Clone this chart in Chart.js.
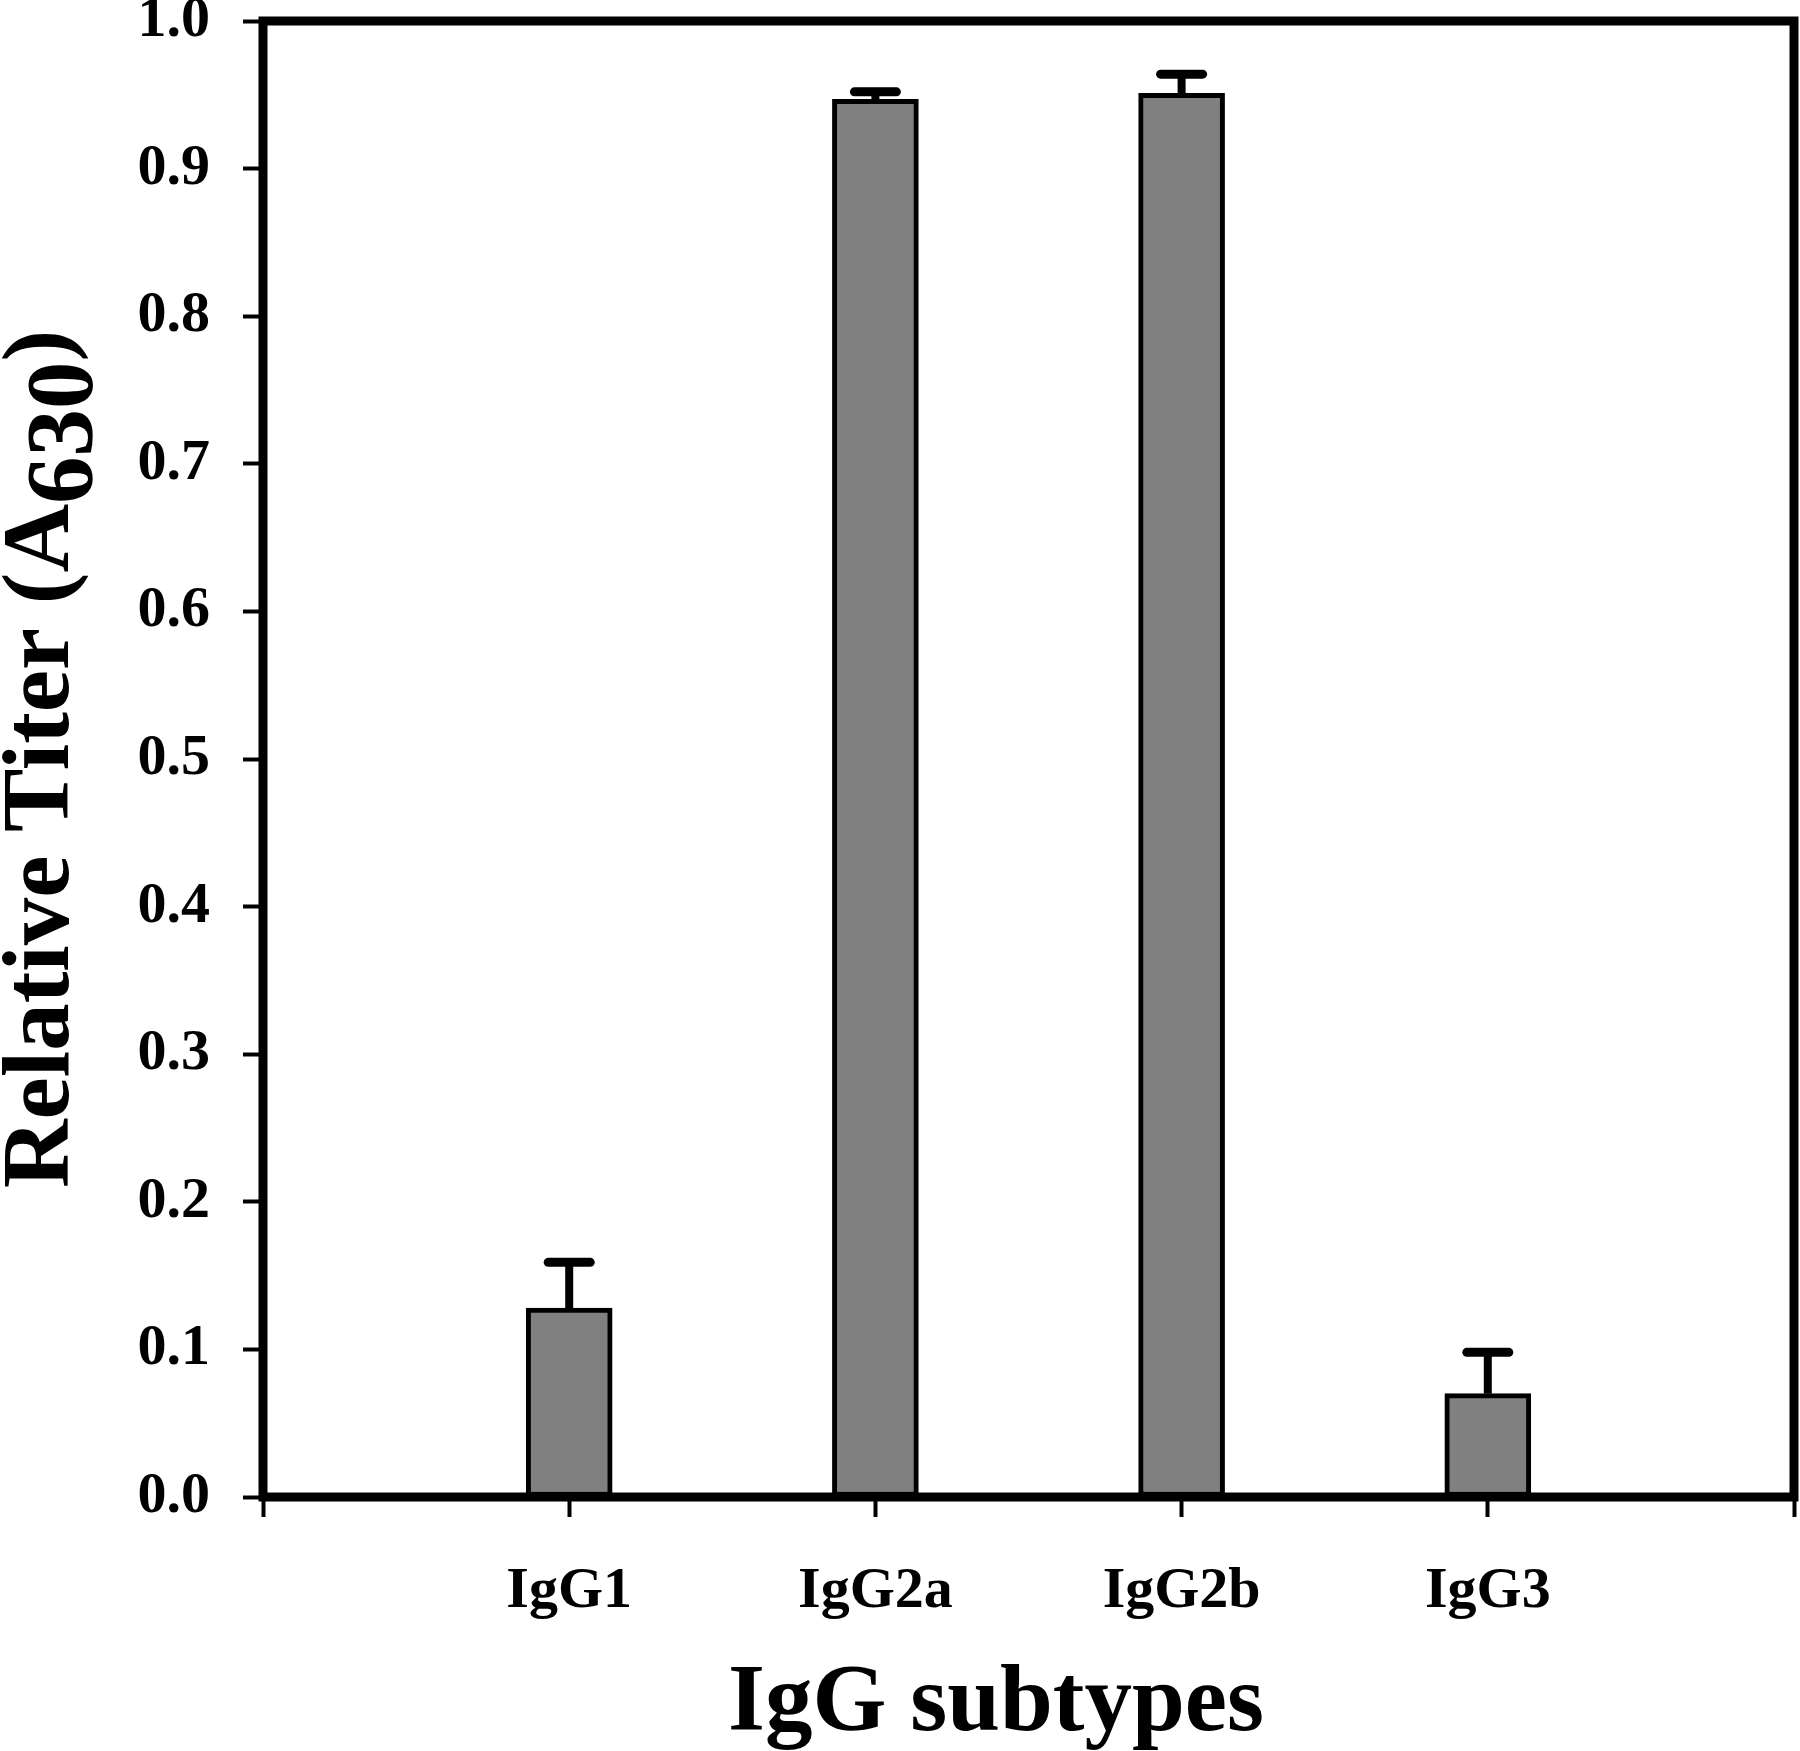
<!DOCTYPE html>
<html>
<head>
<meta charset="utf-8">
<script src="https://cdn.jsdelivr.net/npm/chart.js@4.4.1/dist/chart.umd.min.js"></script>
<style>
  html, body { margin: 0; padding: 0; background: #fff; }
  canvas { display: block; }
</style>
</head>
<body>
<canvas id="titerChart" width="1800" height="1751"></canvas>
<script>
// IgG subtype titers
const categories = ['IgG1', 'IgG2a', 'IgG2b', 'IgG3'];
const titerMeans = [0.128, 0.947, 0.951, 0.070];
const titerErrors = [0.031, 0.005, 0.013, 0.028];
const yMin = 0, yMax = 1, yStep = 0.1;

const serif = "'Liberation Serif', 'Times New Roman', serif";

// blank slot on each side so the axis runs from 0 to 5
const labels = [''].concat(categories, ['']);
const values = [null].concat(titerMeans, [null]);
const errors = [null].concat(titerErrors, [null]);

// error bars (upper only) on top of each bar
const errorBars = {
    id: 'errorBars',
    afterDatasetsDraw(chart) {
        const c = chart.ctx;
        const y = chart.scales.y;
        const meta = chart.getDatasetMeta(0);
        c.save();
        c.strokeStyle = '#000';
        meta.data.forEach((bar, i) => {
            if (values[i] == null) return;
            const top = y.getPixelForValue(values[i] + errors[i]);
            c.lineCap = 'butt';
            c.lineWidth = 8;
            c.beginPath();
            c.moveTo(bar.x, bar.y);
            c.lineTo(bar.x, top);
            c.stroke();
            c.lineCap = 'round';
            c.lineWidth = 9;
            c.beginPath();
            c.moveTo(bar.x - 21, top);
            c.lineTo(bar.x + 21, top);
            c.stroke();
        });
        c.restore();
    }
};

// box around the plot + axis titles
const frameAndTitles = {
    id: 'frameAndTitles',
    afterDatasetsDraw(chart) {
        const a = chart.chartArea;
        const c = chart.ctx;
        c.save();
        c.strokeStyle = '#000';
        c.lineWidth = 9;
        c.lineJoin = 'miter';
        c.strokeRect(a.left, a.top, a.right - a.left, a.bottom - a.top);
        c.restore();
    },
    afterDraw(chart) {
        const c = chart.ctx;
        c.save();
        c.fillStyle = '#000';
        c.font = 'bold 95px ' + serif;
        c.textBaseline = 'alphabetic';

        // x title
        c.textAlign = 'center';
        c.fillText('IgG subtypes', 996, 1730);

        // y title with subscript
        c.textAlign = 'left';
        c.translate(68, 1188);
        c.rotate(-Math.PI / 2);
        const main = 'Relative Titer (A';
        const sub = '630';
        c.fillText(main, 0, 0);
        let w = c.measureText(main).width;
        c.fillText(sub, w, 24);
        w += c.measureText(sub).width;
        c.fillText(')', w, 0);
        c.restore();
    }
};

const ctx = document.getElementById('titerChart');

new Chart(ctx, {
    type: 'bar',
    data: {
        labels: labels,
        datasets: [{
            data: values,
            backgroundColor: '#808080',
            borderColor: '#000',
            borderWidth: 5,
            barThickness: 86,
            borderSkipped: false
        }]
    },
    plugins: [errorBars, frameAndTitles],
    options: {
        responsive: false,
        animation: false,
        devicePixelRatio: 1,
        layout: {
            padding: { left: 0, right: 6, top: 21, bottom: 0 }
        },
        scales: {
            x: {
                offset: false,
                grid: {
                    offset: false,
                    drawOnChartArea: false,
                    drawTicks: true,
                    tickLength: 20,
                    tickWidth: 4,
                    tickColor: '#000'
                },
                border: { display: false },
                ticks: {
                    color: '#000',
                    padding: 40,
                    maxRotation: 0,
                    autoSkip: false,
                    font: { family: serif, size: 58, weight: 'bold' }
                },
                afterFit(scale) {
                    scale.height = 254;
                    scale.paddingLeft = 0;
                    scale.paddingRight = 0;
                }
            },
            y: {
                min: yMin,
                max: yMax,
                grid: {
                    drawOnChartArea: false,
                    drawTicks: true,
                    tickLength: 20,
                    tickWidth: 4,
                    tickColor: '#000'
                },
                border: { display: false },
                ticks: {
                    stepSize: yStep,
                    color: '#000',
                    padding: 33,
                    font: { family: serif, size: 58, weight: 'bold' },
                    callback: (v) => Number(v).toFixed(1)
                },
                afterFit(scale) {
                    scale.width = 263;
                    scale.paddingTop = 0;
                    scale.paddingBottom = 0;
                }
            }
        },
        plugins: {
            legend: { display: false },
            tooltip: { enabled: false }
        }
    }
});
</script>
</body>
</html>
